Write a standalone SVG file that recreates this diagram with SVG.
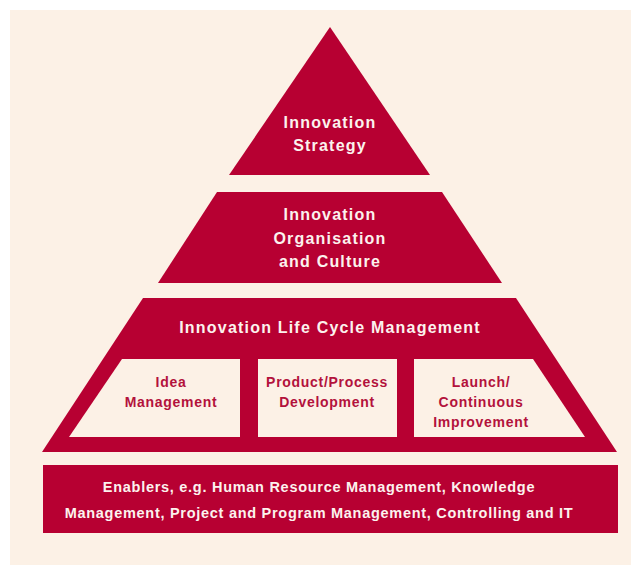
<svg xmlns="http://www.w3.org/2000/svg" width="631" height="565" viewBox="0 0 631 565">
<style>
.red{fill:#B70032}
.cream{fill:#FCF1E6}
.t{font-family:"Liberation Sans",Arial,sans-serif;font-weight:bold;text-anchor:middle}
.big{font-size:16px;letter-spacing:1.2px;fill:#FCF2EE}
.box{font-size:14px;letter-spacing:0.7px;fill:#B3123C}
.en{font-size:14.5px;letter-spacing:0.72px;fill:#FCF2EE}
</style>
<rect x="0" y="0" width="631" height="565" fill="#FFFFFF"/>
<rect x="10" y="10" width="621" height="555" class="cream"/>
<g id="strategy">
<polygon class="red" points="330,27 430,175 229,175"/>
<text class="t big" x="330" y="127.5">Innovation</text>
<text class="t big" x="330" y="150.5">Strategy</text>
</g>
<g id="organisation">
<polygon class="red" points="217,192 442,192 502,283 158,283"/>
<text class="t big" x="330" y="220">Innovation</text>
<text class="t big" x="330" y="243.5">Organisation</text>
<text class="t big" x="330" y="267">and Culture</text>
</g>
<g id="lifecycle">
<polygon class="red" points="143,298 516,298 617,452 42,452"/>
<text class="t big" x="330" y="333">Innovation Life Cycle Management</text>
</g>
<g id="idea">
<polygon class="cream" points="122,359 240,359 240,437 69,437"/>
<text class="t box" x="171" y="387">Idea</text>
<text class="t box" x="171" y="407">Management</text>
</g>
<g id="development">
<rect class="cream" x="258" y="359" width="139" height="78"/>
<text class="t box" x="327" y="387">Product/Process</text>
<text class="t box" x="327" y="407">Development</text>
</g>
<g id="launch">
<polygon class="cream" points="414,359 533,359 585,437 414,437"/>
<text class="t box" x="481" y="387">Launch/</text>
<text class="t box" x="481" y="407">Continuous</text>
<text class="t box" x="481" y="427">Improvement</text>
</g>
<g id="enablers">
<rect class="red" x="43" y="465" width="575" height="68"/>
<text class="t en" x="319" y="492">Enablers, e.g. Human Resource Management, Knowledge</text>
<text class="t en" x="319" y="517.5">Management, Project and Program Management, Controlling and IT</text>
</g>
</svg>
